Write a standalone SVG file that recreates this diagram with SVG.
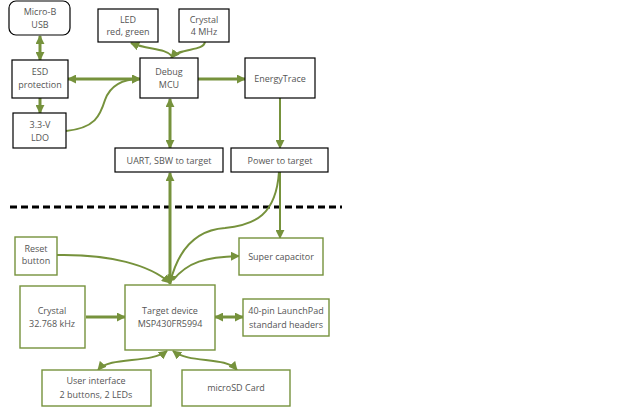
<svg xmlns="http://www.w3.org/2000/svg" width="624" height="412" viewBox="0 0 624 412">
<style>
.bk{fill:#fff;stroke:#000;stroke-width:1.2}
.gn{fill:#fff;stroke:#76923C;stroke-width:1.4}
.t{font-family:"Open Sans","Noto Sans",sans-serif;font-size:9px;fill:#555;text-anchor:middle}
.c{fill:none;stroke:#76923C;stroke-width:3}
.cc{fill:none;stroke:#76923C;stroke-width:2}
</style>
<defs>
<marker id="a" viewBox="0 0 10 10" refX="9" refY="5" markerWidth="9" markerHeight="9" markerUnits="userSpaceOnUse" orient="auto-start-reverse"><path d="M0,0 L10,5 L0,10 z" fill="#76923C"/></marker>
</defs>
<rect width="624" height="412" fill="#fff"/>
<line x1="10" y1="207" x2="342" y2="207" stroke="#000" stroke-width="3" stroke-dasharray="7,4"/>
<g id="connectors">
<line class="c" x1="40" y1="36" x2="40" y2="60" marker-start="url(#a)" marker-end="url(#a)"/>
<line class="c" x1="40" y1="98" x2="40" y2="113" marker-end="url(#a)"/>
<line class="c" x1="68" y1="79" x2="140" y2="79" marker-start="url(#a)" marker-end="url(#a)"/>
<path class="cc" d="M66,131 C95,128 100,116 105,100 C110,86 122,79 140,79" marker-end="url(#a)"/>
<path class="cc" d="M172,56 C165,48 148,50 131,43" marker-end="url(#a)"/>
<path class="cc" d="M205,42 C203,52 180,47 171,58" marker-end="url(#a)"/>
<line class="c" x1="197" y1="79" x2="245" y2="79" marker-end="url(#a)"/>
<line class="c" x1="170" y1="99" x2="170" y2="148" marker-start="url(#a)" marker-end="url(#a)"/>
<line class="cc" x1="280" y1="98" x2="280" y2="148" marker-end="url(#a)"/>
<line class="c" x1="170" y1="173" x2="170" y2="284" marker-start="url(#a)" marker-end="url(#a)"/>
<line class="cc" x1="280" y1="172" x2="280" y2="238" marker-end="url(#a)"/>
<path class="cc" d="M279,172 C276,215 255,225 225,228 C195,230 178,250 170,283" marker-end="url(#a)"/>
<path class="cc" d="M57,255 C110,254 150,265 170,283" marker-end="url(#a)"/>
<path class="cc" d="M173,280 C188,262 205,257 239,256" marker-end="url(#a)"/>
<line class="c" x1="86" y1="317" x2="125" y2="317" marker-end="url(#a)"/>
<line class="c" x1="215" y1="317" x2="243" y2="317" marker-start="url(#a)" marker-end="url(#a)"/>
<path class="cc" d="M167,351 C150,364 110,356 98,370" marker-start="url(#a)" marker-end="url(#a)"/>
<path class="cc" d="M173,351 C190,364 225,356 237,370" marker-start="url(#a)" marker-end="url(#a)"/>
</g>
<g id="usb"><rect class="bk" x="9" y="1" width="61" height="34" rx="7"/><text class="t" x="40" y="15">Micro-B</text><text class="t" x="40" y="28">USB</text></g>
<g id="esd"><rect class="bk" x="12" y="60" width="56" height="38"/><text class="t" x="40" y="75">ESD</text><text class="t" x="40" y="88">protection</text></g>
<g id="ldo"><rect class="bk" x="13" y="113" width="53" height="35"/><text class="t" x="40" y="128">3.3-V</text><text class="t" x="40" y="141">LDO</text></g>
<g id="led"><rect class="bk" x="98" y="9" width="60" height="33"/><text class="t" x="128" y="23">LED</text><text class="t" x="128" y="35">red, green</text></g>
<g id="crystal4"><rect class="bk" x="179" y="9" width="50" height="33"/><text class="t" x="204" y="23">Crystal</text><text class="t" x="204" y="35">4 MHz</text></g>
<g id="mcu"><rect class="bk" x="140" y="58" width="58" height="40"/><text class="t" x="169" y="75">Debug</text><text class="t" x="169" y="88">MCU</text></g>
<g id="energytrace"><rect class="bk" x="245" y="58" width="70" height="40"/><text class="t" x="280" y="82">EnergyTrace</text></g>
<g id="uart"><rect class="bk" x="115" y="148" width="108" height="24"/><text class="t" x="169" y="164">UART, SBW to target</text></g>
<g id="power"><rect class="bk" x="231" y="148" width="97" height="24"/><text class="t" x="280" y="164">Power to target</text></g>
<g id="reset"><rect class="gn" x="15" y="237" width="42" height="38"/><text class="t" x="36" y="252">Reset</text><text class="t" x="36" y="264">button</text></g>
<g id="supercap"><rect class="gn" x="239" y="238" width="84" height="37"/><text class="t" x="281" y="260">Super capacitor</text></g>
<g id="crystal32"><rect class="gn" x="20" y="286" width="65" height="62"/><text class="t" x="52" y="314">Crystal</text><text class="t" x="52" y="327">32.768 kHz</text></g>
<g id="target"><rect class="gn" x="125" y="285" width="90" height="65"/><text class="t" x="170" y="314">Target device</text><text class="t" x="170" y="327">MSP430FR5994</text></g>
<g id="headers"><rect class="gn" x="243" y="299" width="86" height="37"/><text class="t" x="286" y="314">40-pin LaunchPad</text><text class="t" x="286" y="328">standard headers</text></g>
<g id="ui"><rect class="gn" x="42" y="370" width="109" height="36"/><text class="t" x="96" y="384">User interface</text><text class="t" x="96" y="398">2 buttons, 2 LEDs</text></g>
<g id="microsd"><rect class="gn" x="182" y="370" width="108" height="36"/><text class="t" x="236" y="391">microSD Card</text></g>
</svg>
